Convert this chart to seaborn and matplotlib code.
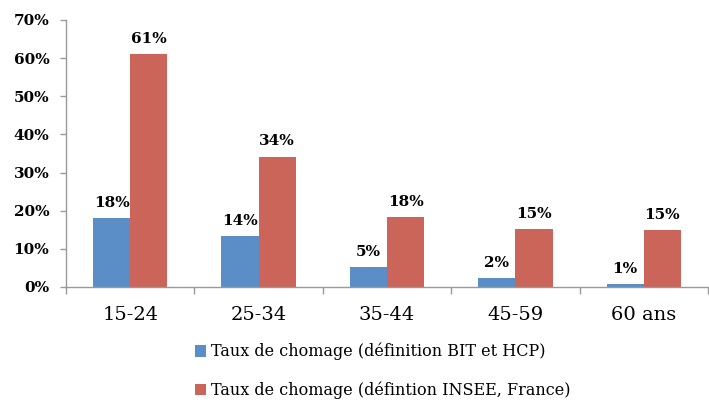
import matplotlib
matplotlib.use("Agg")
import matplotlib.pyplot as plt
import seaborn as sns
import pandas as pd
from matplotlib.patches import Patch

categories = ["15-24", "25-34", "35-44", "45-59", "60 ans"]
bit_values = [18.1, 13.4, 5.2, 2.4, 0.8]
insee_values = [61.0, 34.2, 18.3, 15.2, 14.9]
bit_labels = ["18%", "14%", "5%", "2%", "1%"]
insee_labels = ["61%", "34%", "18%", "15%", "15%"]
series_names = ["Taux de chomage (définition BIT et HCP)",
                "Taux de chomage (défintion INSEE, France)"]
y_ticks = [0, 10, 20, 30, 40, 50, 60, 70]
y_tick_labels = ["0%", "10%", "20%", "30%", "40%", "50%", "60%", "70%"]

colors = ["#5B8EC6", "#CB655A"]

df = pd.DataFrame({
    "cat": categories * 2,
    "val": bit_values + insee_values,
    "serie": [series_names[0]] * len(categories) + [series_names[1]] * len(categories),
})

sns.set_style("white")
plt.rcParams["font.family"] = ["DejaVu Serif"]
plt.rcParams["text.color"] = "black"
plt.rcParams["xtick.labelcolor"] = "black"
plt.rcParams["ytick.labelcolor"] = "black"

fig = plt.figure(figsize=(7.09, 4.03), dpi=100)
ax = fig.add_axes([66/709, 1 - 287/403, 642/709, 267/403])

sns.barplot(data=df, x="cat", y="val", hue="serie", palette=colors,
            width=0.58, ax=ax, legend=False, saturation=1, linewidth=0)

for cont, labs in zip(ax.containers, [bit_labels, insee_labels]):
    ax.bar_label(cont, labels=labs, padding=6, fontsize=11, fontweight="bold",
                 color="black")

ax.set_ylim(0, 70)
ax.set_xlim(-0.5, 4.5)
ax.set_yticks(y_ticks)
ax.set_yticklabels(y_tick_labels, fontsize=11, fontweight="bold", color="black")
ax.set_xticks(range(len(categories)))
ax.set_xticklabels(categories, fontsize=14, color="black")
ax.set_xticks([i - 0.5 for i in range(len(categories) + 1)], minor=True)
ax.tick_params(axis="x", which="major", length=0, pad=14, bottom=True)
ax.tick_params(axis="x", which="minor", length=5, color="#999999", width=1,
               direction="out", bottom=True)
ax.tick_params(axis="y", length=4, color="#999999", width=1, direction="out",
               pad=8, left=True)
ax.set_xlabel("")
ax.set_ylabel("")
for s in ["top", "right"]:
    ax.spines[s].set_visible(False)
for s in ["left", "bottom"]:
    ax.spines[s].set_color("#999999")
    ax.spines[s].set_linewidth(1)

handles = [Patch(facecolor=c, edgecolor="none") for c in colors]
fig.legend(handles, series_names, loc="upper left", bbox_to_anchor=(195/709, 1 - 343/403),
           ncol=1, frameon=False, fontsize=11.5, handlelength=0.7, handleheight=0.7,
           handletextpad=0.3, labelspacing=1.3, borderaxespad=0, borderpad=0,
           labelcolor="black")

fig.savefig("out.png", dpi=100)
